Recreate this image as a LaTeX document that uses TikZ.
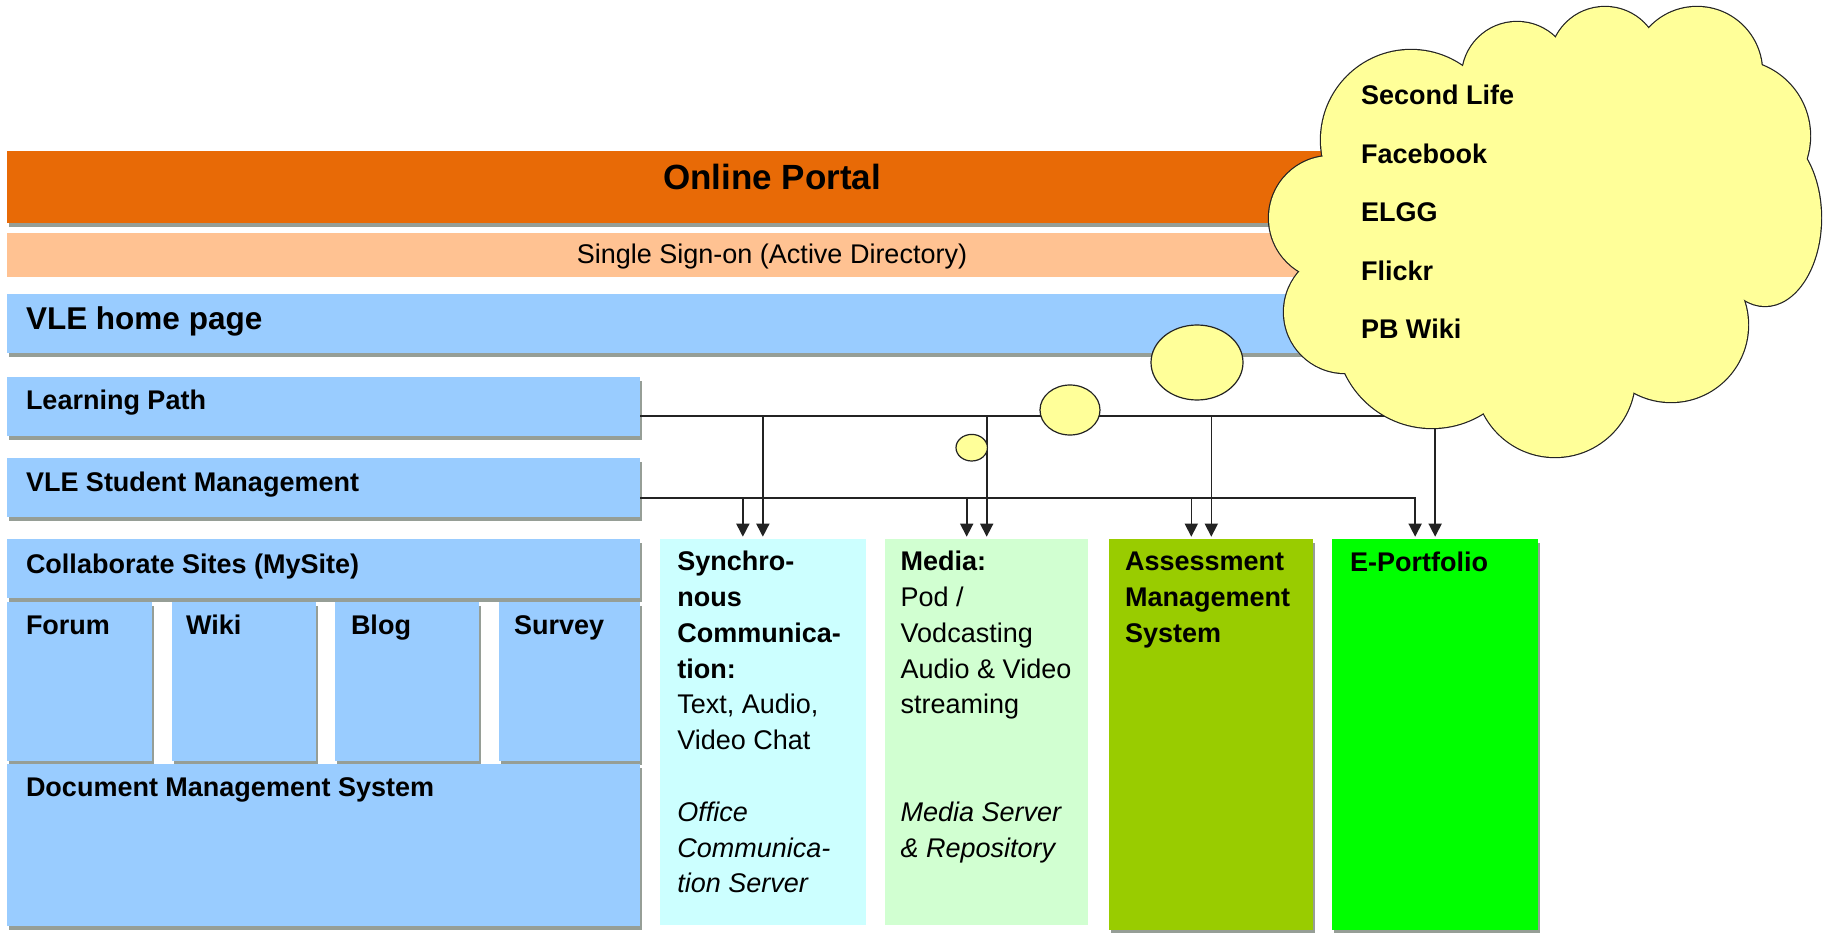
\documentclass[tikz,border=0pt]{standalone}
\usepackage{fontspec}
\setmainfont{Liberation Sans}
\usetikzlibrary{arrows.meta,shadows}
\definecolor{portal}{RGB}{232,106,6}
\definecolor{sso}{RGB}{255,194,146}
\definecolor{vle}{RGB}{153,204,255}
\definecolor{syncc}{RGB}{204,255,255}
\definecolor{mediac}{RGB}{209,255,209}
\definecolor{assessc}{RGB}{153,204,0}
\definecolor{eportc}{RGB}{0,255,0}
\definecolor{cloudy}{RGB}{255,255,153}
\definecolor{shade}{RGB}{150,158,150}
\definecolor{wirec}{RGB}{35,35,35}
\tikzset{
  box/.style={rectangle, anchor=north west, inner sep=0pt, outer sep=0pt, draw=none, fill=#1},
  shd/.style={drop shadow={shadow xshift=2pt, shadow yshift=-4pt, fill=shade, opacity=1}},
  lbl/.style={anchor=base west, inner sep=0pt, outer sep=0pt, font=\fontsize{27}{35.8}\selectfont\bfseries},
  wire/.style={draw=wirec, line width=1.6pt},
  arr/.style={wire, -{Triangle[length=13pt,width=13pt]}, shorten >=2.6pt},
  bubble/.style={draw=wirec, line width=1.2pt, fill=cloudy},
}
\begin{document}
\begin{tikzpicture}[x=1pt, y=-1pt]
\useasboundingbox[fill=white] (0,0) rectangle (1823,933);

% bars and boxes
\node[box=portal, shd, minimum width=1531pt, minimum height=72pt] (portal) at (7,150.7) {};
\node[box=sso, minimum width=1531pt, minimum height=44.6pt] (sso) at (7,232.7) {};
\node[box=vle, shd, minimum width=1531pt, minimum height=59.3pt] (home) at (7,294) {};
\node[box=vle, shd, minimum width=633pt, minimum height=59pt] (lp) at (7,376.7) {};
\node[box=vle, shd, minimum width=633pt, minimum height=59pt] (sm) at (7,458.3) {};
\node[box=vle, shd, minimum width=633pt, minimum height=59pt] (collab) at (7,539.3) {};
\node[box=vle, shd, minimum width=145pt, minimum height=159pt] (forum) at (7,602) {};
\node[box=vle, shd, minimum width=144pt, minimum height=159pt] (wiki) at (171.5,602) {};
\node[box=vle, shd, minimum width=144pt, minimum height=159pt] (blog) at (334.5,602) {};
\node[box=vle, shd, minimum width=141.5pt, minimum height=159pt] (survey) at (498.5,602) {};
\node[box=vle, shd, minimum width=633pt, minimum height=162pt] (dms) at (7,764) {};
\node[box=syncc, minimum width=205.7pt, minimum height=385.4pt] (sync) at (660,539.3) {};
\node[box=mediac, minimum width=203.4pt, minimum height=385.4pt] (media) at (885,539.3) {};
\node[box=assessc, shd, minimum width=204pt, minimum height=391pt] (assess) at (1109.3,539.3) {};
\node[box=eportc, shd, minimum width=205.7pt, minimum height=391pt] (ep) at (1332.3,539.3) {};

% texts
\node[anchor=base, inner sep=0pt, font=\fontsize{35}{40}\selectfont\bfseries] (portalT) at (772,189.3) {Online Portal};
\node[anchor=base, inner sep=0pt, font=\fontsize{27}{32}\selectfont] (ssoT) at (772,263.3) {Single Sign-on (Active Directory)};
\node[lbl, font=\fontsize{31.5}{36}\selectfont\bfseries] (homeT) at (26,330) {VLE home page};
\node[lbl] (lpT) at (26,409.3) {Learning Path};
\node[lbl] (smT) at (26,491.7) {VLE Student Management};
\node[lbl] (collabT) at (26,573) {Collaborate Sites (MySite)};
\node[lbl] (forumT) at (26,634.7) {Forum};
\node[lbl] (wikiT) at (186,634.7) {Wiki};
\node[lbl] (blogT) at (351,634.7) {Blog};
\node[lbl] (surveyT) at (514,634.7) {Survey};
\node[lbl] (dmsT) at (26,796.3) {Document Management System};
\node[lbl, font=\fontsize{27}{35.8}\selectfont] (syncT) at (677.3,570.7) {\begin{tabular}[t]{@{}l@{}}\textbf{Synchro-}\\ \textbf{nous}\\ \textbf{Communica-}\\ \textbf{tion:}\\ Text, Audio,\\ Video Chat\\ \\ \textit{Office}\\ \textit{Communica-}\\ \textit{tion Server}\end{tabular}};
\node[lbl, font=\fontsize{27}{35.8}\selectfont] (mediaT) at (900.7,570.7) {\begin{tabular}[t]{@{}l@{}}\textbf{Media:}\\ Pod /\\ Vodcasting\\ Audio \& Video\\ streaming\\ \\ \\ \textit{Media Server}\\ \textit{\& Repository}\end{tabular}};
\node[lbl] (assessT) at (1125,570.7) {\begin{tabular}[t]{@{}l@{}}Assessment\\ Management\\ System\end{tabular}};
\node[lbl] (epT) at (1350,571.7) {E-Portfolio};

% connectors
\coordinate (lpout) at ([yshift=-9.5pt]lp.east);
\coordinate (smout) at ([yshift=-9.9pt]sm.east);
\foreach \t in {sync,media,assess,ep} \coordinate (\t-l) at ([xshift=-20pt]\t.north);
\draw[arr] (lpout) -| (ep.north);
\foreach \t in {sync,media,assess} \draw[arr] (lpout -| \t.north) -- (\t.north);
\draw[arr] (smout) -| (ep-l);
\foreach \t in {sync,media,assess} \draw[arr] (smout -| \t-l) -- (\t-l);

% thought bubbles
\draw[bubble] (971.7,447.7) ellipse[x radius=15.7pt, y radius=13.3pt];
\draw[bubble] (1070,410) ellipse[x radius=30pt, y radius=25pt];
\draw[bubble] (1197,362.5) ellipse[x radius=46pt, y radius=37.5pt];

% cloud
\foreach \cx/\cy/\r in {1331/218/62, 1411/140/90, 1517/77/55, 1605/62/55, 1697/72/65, 1734/136/76, 1671/325/77, 1555/377/80, 1432/332/96, 1345/312/61}
  \draw[draw=wirec, line width=2.4pt] (\cx,\cy) circle[radius=\r pt];
\draw[draw=wirec, line width=2.4pt] (1765,218) ellipse[x radius=56pt, y radius=88pt];
\foreach \cx/\cy/\r in {1331/218/62, 1411/140/90, 1517/77/55, 1605/62/55, 1697/72/65, 1734/136/76, 1671/325/77, 1555/377/80, 1432/332/96, 1345/312/61}
  \fill[cloudy] (\cx,\cy) circle[radius=\r pt];
\fill[cloudy] (1765,218) ellipse[x radius=56pt, y radius=88pt];
\fill[cloudy] (1331,218) -- (1411,140) -- (1517,77) -- (1605,62) -- (1697,72) -- (1734,136) -- (1765,218) -- (1671,325) -- (1555,377) -- (1432,332) -- (1345,312) -- cycle;

\node[lbl, font=\fontsize{27}{58.5}\selectfont\bfseries] (cloudT) at (1361,105) {\begin{tabular}[t]{@{}l@{}}Second Life\\ Facebook\\ ELGG\\ Flickr\\ PB Wiki\end{tabular}};
\end{tikzpicture}
\end{document}
